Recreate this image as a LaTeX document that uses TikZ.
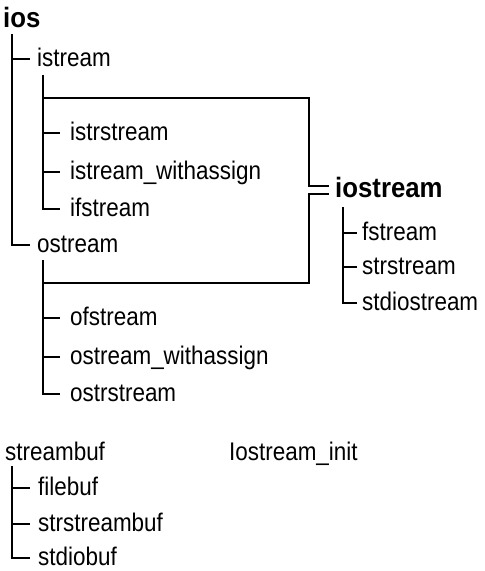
\documentclass[tikz,border=0pt]{standalone}
\usepackage{fontspec}
\setmainfont{Liberation Sans}
\newfontfamily\narrowfont[FakeStretch=0.88]{Liberation Sans}
\newfontfamily\narrowbold[FakeStretch=0.92]{Liberation Sans Bold}
\begin{document}
\begin{tikzpicture}[x=1pt,y=-1pt,
  lbl/.style={anchor=base west,inner sep=0pt,font=\narrowfont\fontsize{25.5}{25.5}\selectfont},
  head/.style={anchor=base west,inner sep=0pt,font=\narrowbold\fontsize{28}{28}\selectfont},
  thickln/.style={line width=2.8pt},
  thinln/.style={line width=1.8pt},
  tickln/.style={line width=1.4pt}]
\useasboundingbox (0,0) rectangle (485,571);
% tick ends (positions of branches)
\coordinate (tIstream) at (30,59);
\coordinate (tOstream) at (30,245);
\coordinate (tIstr) at (60,133);
\coordinate (tIswa) at (60,172);
\coordinate (tIf) at (60,209);
\coordinate (tOf) at (60,318);
\coordinate (tOswa) at (60,357);
\coordinate (tOstr) at (60,394);
\coordinate (tF) at (357,233);
\coordinate (tStr) at (357,267);
\coordinate (tStdio) at (357,303);
\coordinate (tFile) at (30,488);
\coordinate (tStrbuf) at (30,524);
\coordinate (tStdiobuf) at (30,558);
% heads
\node[head] (ios) at (3,27) {ios};
\node[head] (iostream) at (335,197) {iostream};
% level 1
\node[lbl] (istream) at ([shift={(7,7.5)}]tIstream) {istream};
\node[lbl] (ostream) at ([shift={(7,7.5)}]tOstream) {ostream};
% istream children
\node[lbl] (istrstream) at ([shift={(10,7.5)}]tIstr) {istrstream};
\node[lbl] (iswa) at ([shift={(10,7.5)}]tIswa) {istream\_withassign};
\node[lbl] (ifstream) at ([shift={(10,7.5)}]tIf) {ifstream};
% ostream children
\node[lbl] (ofstream) at ([shift={(10,7.5)}]tOf) {ofstream};
\node[lbl] (oswa) at ([shift={(10,7.5)}]tOswa) {ostream\_withassign};
\node[lbl] (ostrstream) at ([shift={(10,7.5)}]tOstr) {ostrstream};
% iostream children
\node[lbl] (fstream) at ([shift={(5,7.5)}]tF) {fstream};
\node[lbl] (strstream) at ([shift={(5,7.5)}]tStr) {strstream};
\node[lbl] (stdiostream) at ([shift={(5,7.5)}]tStdio) {stdiostream};
% streambuf
\node[lbl] (streambuf) at (5,460) {streambuf};
\node[lbl] (ioinit) at (229,460) {Iostream\_init};
\node[lbl] (filebuf) at ([shift={(8,7.5)}]tFile) {filebuf};
\node[lbl] (strstreambuf) at ([shift={(8,7.5)}]tStrbuf) {strstreambuf};
\node[lbl] (stdiobuf) at ([shift={(8,7.5)}]tStdiobuf) {stdiobuf};

% trunk coordinates
\coordinate (iosTop) at (12,34);
\coordinate (isTop) at (43,75);
\coordinate (isBox) at (43,98);
\coordinate (osTop) at (43,260);
\coordinate (osBox) at (43,283);
\coordinate (ioTop) at (343,207);
\coordinate (sbTop) at (12,466);
\coordinate (boxTR) at (309,98);
\coordinate (boxBR) at (309,283);
\coordinate (eqTop) at (329,186);
\coordinate (eqBot) at (329,194);

% ios tree
\draw[thickln] (iosTop) |- (tOstream);
\draw[thickln] (iosTop |- tIstream) -- (tIstream);
% istream subtree
\draw[thickln] (isTop) -- (isBox);
\draw[thinln] (isBox) |- (tIf);
\draw[tickln] (isBox |- tIstr) -- (tIstr);
\draw[tickln] (isBox |- tIswa) -- (tIswa);
% ostream subtree
\draw[thickln] (osTop) -- (osBox);
\draw[thinln] (osBox) |- (tOstr);
\draw[tickln] (osBox |- tOf) -- (tOf);
\draw[tickln] (osBox |- tOswa) -- (tOswa);
% bracket to iostream
\draw[thickln] (isBox) -- (boxTR) |- (eqTop);
\draw[thickln] (osBox) -- (boxBR) |- (eqBot);
% iostream subtree
\draw[thinln] (ioTop) |- (tStdio);
\draw[tickln] (ioTop |- tF) -- (tF);
\draw[tickln] (ioTop |- tStr) -- (tStr);
% streambuf subtree
\draw[thinln] (sbTop) |- (tStdiobuf);
\draw[tickln] (sbTop |- tFile) -- (tFile);
\draw[tickln] (sbTop |- tStrbuf) -- (tStrbuf);
\end{tikzpicture}
\end{document}
